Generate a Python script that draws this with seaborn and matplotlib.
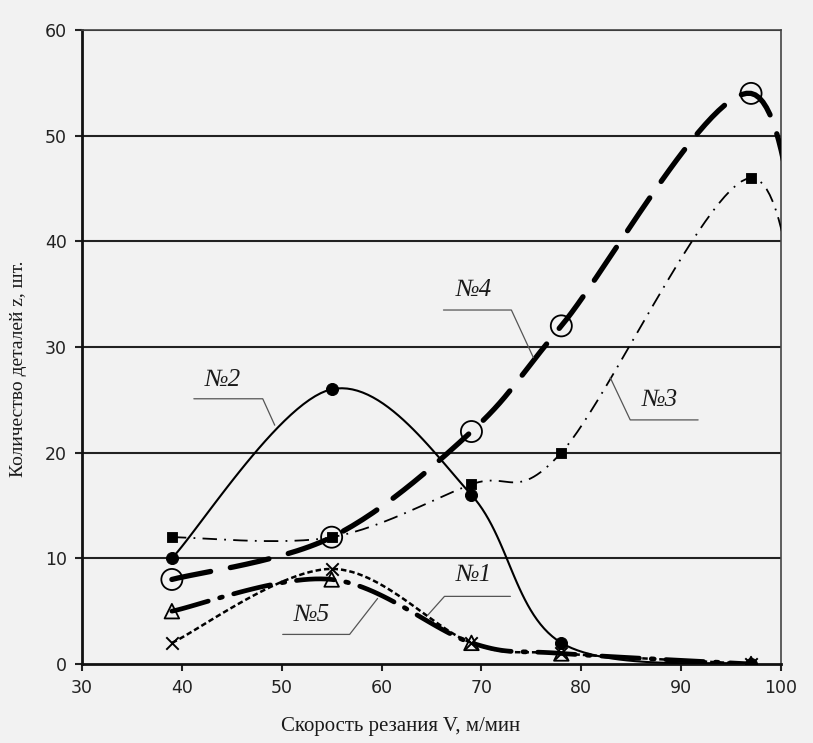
import numpy as np
import pandas as pd
import seaborn as sns
import matplotlib.pyplot as plt

# cutting speed, m/min
speed = [39, 55, 69, 78, 97]
# parts count per tool number
n1 = [2, 9, 2, 1, 0]
n2 = [10, 26, 16, 2, 0]
n3 = [12, 12, 17, 20, 46]
n4 = [8, 12, 22, 32, 54]
n5 = [5, 8, 2, 1, 0]
# curves 3 and 4 run on past the right edge of the axis (clipped there)
tail_x = 103
tail3 = 21
tail4 = 28


def smooth(xs, ys, k=30):
	# excel-like smoothing (catmull-rom through the points)
	p = np.column_stack([xs, ys]).astype(float)
	p = np.vstack([p[0], p, p[-1]])
	out = []
	for i in range(1, len(p) - 2):
		a, b = p[i], p[i + 1]
		c1 = a + (p[i + 1] - p[i - 1]) / 6
		c2 = b - (p[i + 2] - p[i]) / 6
		t = np.linspace(0, 1, k)[:, None]
		out.append((1-t)**3*a + 3*t*(1-t)**2*c1 + 3*t**2*(1-t)*c2 + t**3*b)
	out = np.vstack(out)
	return pd.DataFrame({'x': out[:, 0], 'y': out[:, 1]})


sns.set_style('white')
plt.rcParams['font.family'] = ['DejaVu Sans']
bg = '#f2f2f2'

fig = plt.figure(figsize=(8.13, 7.43), dpi=100, facecolor=bg)
ax = fig.add_axes([82/813, 1-664/743, (781-82)/813, (664-30)/743])
ax.set_facecolor(bg)

for yv in [10, 20, 30, 40, 50, 60]:
	ax.axhline(yv, color='#222222', lw=1.5, zorder=1)

curves = [
	(smooth(speed, n2), dict(lw=1.5, linestyle='-')),
	(smooth(speed + [tail_x], n3 + [tail3]), dict(lw=1.3, linestyle=(0, (8, 4, 1, 4)))),
	(smooth(speed + [tail_x], n4 + [tail4]), dict(lw=3.8, linestyle=(0, (7.5, 3.8)), dash_capstyle='round')),
	(smooth(speed, n5), dict(lw=3.4, linestyle=(0, (8, 2.5, 0.6, 2.5)), dash_capstyle='round')),
	(smooth(speed, n1), dict(lw=1.8, linestyle=(0, (2.2, 1.2)))),
]
for df, kw in curves:
	sns.lineplot(data=df, x='x', y='y', ax=ax, color='black', sort=False,
		estimator=None, zorder=3, **kw)

pts = pd.DataFrame({'x': speed * 5, 'y': n1 + n2 + n3 + n4 + n5,
	'tool': ['1']*5 + ['2']*5 + ['3']*5 + ['4']*5 + ['5']*5})
mk = {'1': dict(marker='x', s=80, color='black', linewidth=1.4),
	'2': dict(marker='o', s=75, color='black', edgecolor='black'),
	'3': dict(marker='s', s=60, color='black', edgecolor='black'),
	'4': dict(marker='o', s=230, facecolor='none', edgecolor='black', linewidth=1.3),
	'5': dict(marker='^', s=110, facecolor='none', edgecolor='black', linewidth=1.3)}
for t, kw in mk.items():
	sub = pts[pts.tool == t]
	sns.scatterplot(data=sub, x='x', y='y', ax=ax, zorder=4, legend=False, **kw)

ax.set_xlim(30, 100)
ax.set_ylim(0, 60)
ax.set_xticks(range(30, 101, 10))
ax.set_yticks(range(0, 61, 10))
ax.set_xlabel('')
ax.set_ylabel('')
ax.tick_params(axis='both', direction='out', length=5, width=1.5, colors='#222222',
	labelsize=12.5, pad=6, bottom=True, left=True)
for s in ['left', 'bottom']:
	ax.spines[s].set_linewidth(2)
	ax.spines[s].set_color('#111111')
for s in ['top', 'right']:
	ax.spines[s].set_linewidth(1.2)
	ax.spines[s].set_color('#444444')

serif = ['Liberation Serif', 'DejaVu Serif']
fig.text(401/813, 1-727/743, 'Скорость резания V, м/мин', ha='center', va='center',
	fontsize=15, family=serif, color='#1a1a1a')
fig.text(19/813, 1-369/743, 'Количество деталей z, шт.', ha='center', va='center',
	rotation=90, fontsize=14, family=serif, color='#1a1a1a')

# callouts: text position, leader line (end, knee, tip)
labels = ['№1', '№2', '№3', '№4', '№5']
text_xy = [(69.2, 8.4), (44.1, 26.9), (87.9, 25.0), (69.2, 35.4), (53.0, 4.6)]
leader_x = [(72.9, 66.3, 64.6), (41.2, 48.1, 49.3), (91.7, 84.9, 82.9), (66.2, 73.0, 75.2), (50.1, 56.8, 59.6)]
leader_y = [(6.4, 6.4, 4.6), (25.1, 25.1, 22.6), (23.1, 23.1, 27.1), (33.5, 33.5, 29.0), (2.8, 2.8, 6.2)]
for lab, (tx, ty), lx, ly in zip(labels, text_xy, leader_x, leader_y):
	ax.text(tx, ty, lab, ha='center', va='center', fontsize=18, style='italic',
		family=serif, color='#1a1a1a', zorder=5)
	ax.plot(lx, ly, color='#555555', lw=0.9, zorder=5)

fig.savefig('out.png', dpi=100, facecolor=bg)
